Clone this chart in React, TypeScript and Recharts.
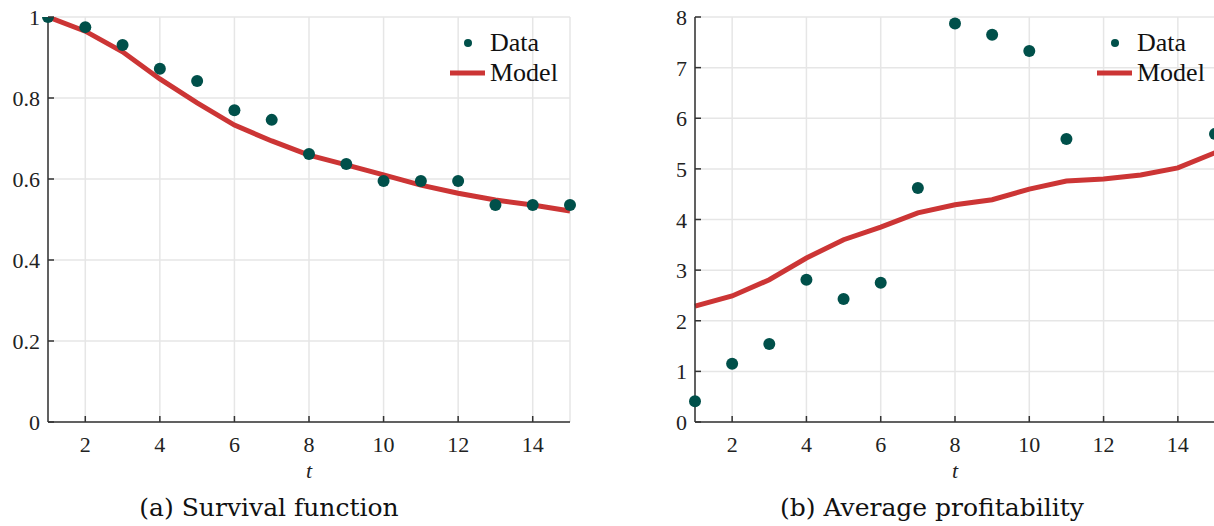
import React from "react";
import {
  ComposedChart,
  Line,
  Scatter,
  XAxis,
  YAxis,
  CartesianGrid,
  Label,
} from "recharts";

// time index
const periods = [1, 2, 3, 4, 5, 6, 7, 8, 9, 10, 11, 12, 13, 14, 15];

// (a) survival function
const survivalData = [1.0, 0.975, 0.931, 0.872, 0.842, 0.77, 0.746, 0.662, 0.637, 0.595, 0.595, 0.595, 0.536, 0.536, 0.536];
const survivalModel = [1.0, 0.965, 0.914, 0.847, 0.788, 0.733, 0.694, 0.659, 0.635, 0.61, 0.585, 0.565, 0.548, 0.536, 0.521];

// (b) average profitability (t = 12..14 lie above the plotted range)
const profitData = [0.41, 1.15, 1.54, 2.81, 2.43, 2.75, 4.62, 7.87, 7.65, 7.33, 5.59, null, null, null, 5.69];
const profitModel = [2.29, 2.49, 2.81, 3.24, 3.6, 3.85, 4.13, 4.29, 4.39, 4.6, 4.76, 4.8, 4.88, 5.02, 5.32];

const tTicks = [2, 4, 6, 8, 10, 12, 14];
const survivalTicks = [0, 0.2, 0.4, 0.6, 0.8, 1];
const profitTicks = [0, 1, 2, 3, 4, 5, 6, 7, 8];

const SERIF = "'Liberation Serif', serif";
const CAPTION_FONT = "'DejaVu Serif', serif";
const DOT = "#00504a";
const RED = "#cc3535";
const AXIS = "#333333";
const GRID = "#e6e6e6";

type Row = { t: number; data: number | null; model: number };

const buildRows = (data: (number | null)[], model: number[]): Row[] =>
  periods.map((t, i) => ({ t, data: data[i], model: model[i] }));

const tickText = { fontFamily: SERIF, fontSize: 22, fill: "#222" };

// tick marks point into the plot, labels sit outside
const XTick = (props: any) => {
  const { x, y, payload } = props;
  return (
    <g>
      <line x1={x} y1={y} x2={x} y2={y - 6} stroke={AXIS} strokeWidth={1.5} />
      <text x={x} y={y + 30} textAnchor="middle" style={tickText}>
        {payload.value}
      </text>
    </g>
  );
};

const YTick = (props: any) => {
  const { x, y, payload } = props;
  return (
    <g>
      <line x1={x} y1={y} x2={x + 6} y2={y} stroke={AXIS} strokeWidth={1.5} />
      <text x={x - 8} y={y + 8} textAnchor="end" style={tickText}>
        {payload.value}
      </text>
    </g>
  );
};

const Dot = (props: any) => {
  const { cx, cy } = props;
  if (cx == null || cy == null) return null;
  return <circle cx={cx} cy={cy} r={6} fill={DOT} />;
};

function PanelLegend({ left }: { left: number }) {
  return (
    <div style={{ position: "absolute", left, top: 28, fontFamily: SERIF, fontSize: 26, color: "#111" }}>
      <div style={{ display: "flex", alignItems: "center", height: 30 }}>
        <svg width={40} height={30}>
          <circle cx={22} cy={15} r={4} fill={DOT} />
        </svg>
        <span style={{ marginLeft: 4 }}>Data</span>
      </div>
      <div style={{ display: "flex", alignItems: "center", height: 30 }}>
        <svg width={40} height={30}>
          <line x1={4} y1={15} x2={39} y2={15} stroke={RED} strokeWidth={5} />
        </svg>
        <span style={{ marginLeft: 4 }}>Model</span>
      </div>
    </div>
  );
}

interface PanelProps {
  rows: Row[];
  yTicks: number[];
  yMax: number;
  left: number;
  width: number;
  axisWidth: number;
  rightMargin: number;
  legendLeft: number;
  caption: string;
  captionCenter: number;
}

function Panel({ rows, yTicks, yMax, left, width, axisWidth, rightMargin, legendLeft, caption, captionCenter }: PanelProps) {
  const points = rows.filter((r) => r.data != null);
  return (
    <div style={{ position: "absolute", left, top: 0, width, height: 526 }}>
      <ComposedChart
        width={width}
        height={484}
        data={rows}
        margin={{ top: 17, right: rightMargin, left: 0, bottom: 0 }}
      >
        <CartesianGrid stroke={GRID} strokeWidth={1.5} />
        <XAxis
          dataKey="t"
          type="number"
          domain={[1, 15]}
          ticks={tTicks}
          height={62}
          tickSize={0}
          tickMargin={0}
          tick={<XTick />}
          axisLine={{ stroke: AXIS, strokeWidth: 1.5 }}
          tickLine={false}
        >
          <Label
            value="t"
            position="insideBottom"
            offset={6}
            style={{ fontFamily: SERIF, fontStyle: "italic", fontSize: 22, fill: "#222" }}
          />
        </XAxis>
        <YAxis
          type="number"
          domain={[0, yMax]}
          ticks={yTicks}
          width={axisWidth}
          tickSize={0}
          tickMargin={0}
          tick={<YTick />}
          axisLine={{ stroke: AXIS, strokeWidth: 1.5 }}
          tickLine={false}
          allowDataOverflow
        />
        <Line
          type="linear"
          dataKey="model"
          stroke={RED}
          strokeWidth={5}
          dot={false}
          isAnimationActive={false}
        />
        <Scatter data={points} dataKey="data" shape={<Dot />} isAnimationActive={false} />
      </ComposedChart>
      <PanelLegend left={legendLeft} />
      <div
        style={{
          position: "absolute",
          top: 491,
          left: captionCenter - 200,
          width: 400,
          textAlign: "center",
          fontFamily: CAPTION_FONT,
          fontSize: 25,
          color: "#111",
          lineHeight: "34px",
          whiteSpace: "nowrap",
        }}
      >
        {caption}
      </div>
    </div>
  );
}

export default function App() {
  return (
    <div
      style={{
        position: "absolute",
        left: 0,
        top: 0,
        width: 1214,
        height: 526,
        overflow: "hidden",
        background: "#fff",
      }}
    >
      <Panel
        rows={buildRows(survivalData, survivalModel)}
        yTicks={survivalTicks}
        yMax={1}
        left={0}
        width={580}
        axisWidth={48}
        rightMargin={10}
        legendLeft={446}
        caption="(a) Survival function"
        captionCenter={269}
      />
      <Panel
        rows={buildRows(profitData, profitModel)}
        yTicks={profitTicks}
        yMax={8}
        left={640}
        width={575}
        axisWidth={55}
        rightMargin={0}
        legendLeft={453}
        caption="(b) Average profitability"
        captionCenter={292}
      />
    </div>
  );
}
